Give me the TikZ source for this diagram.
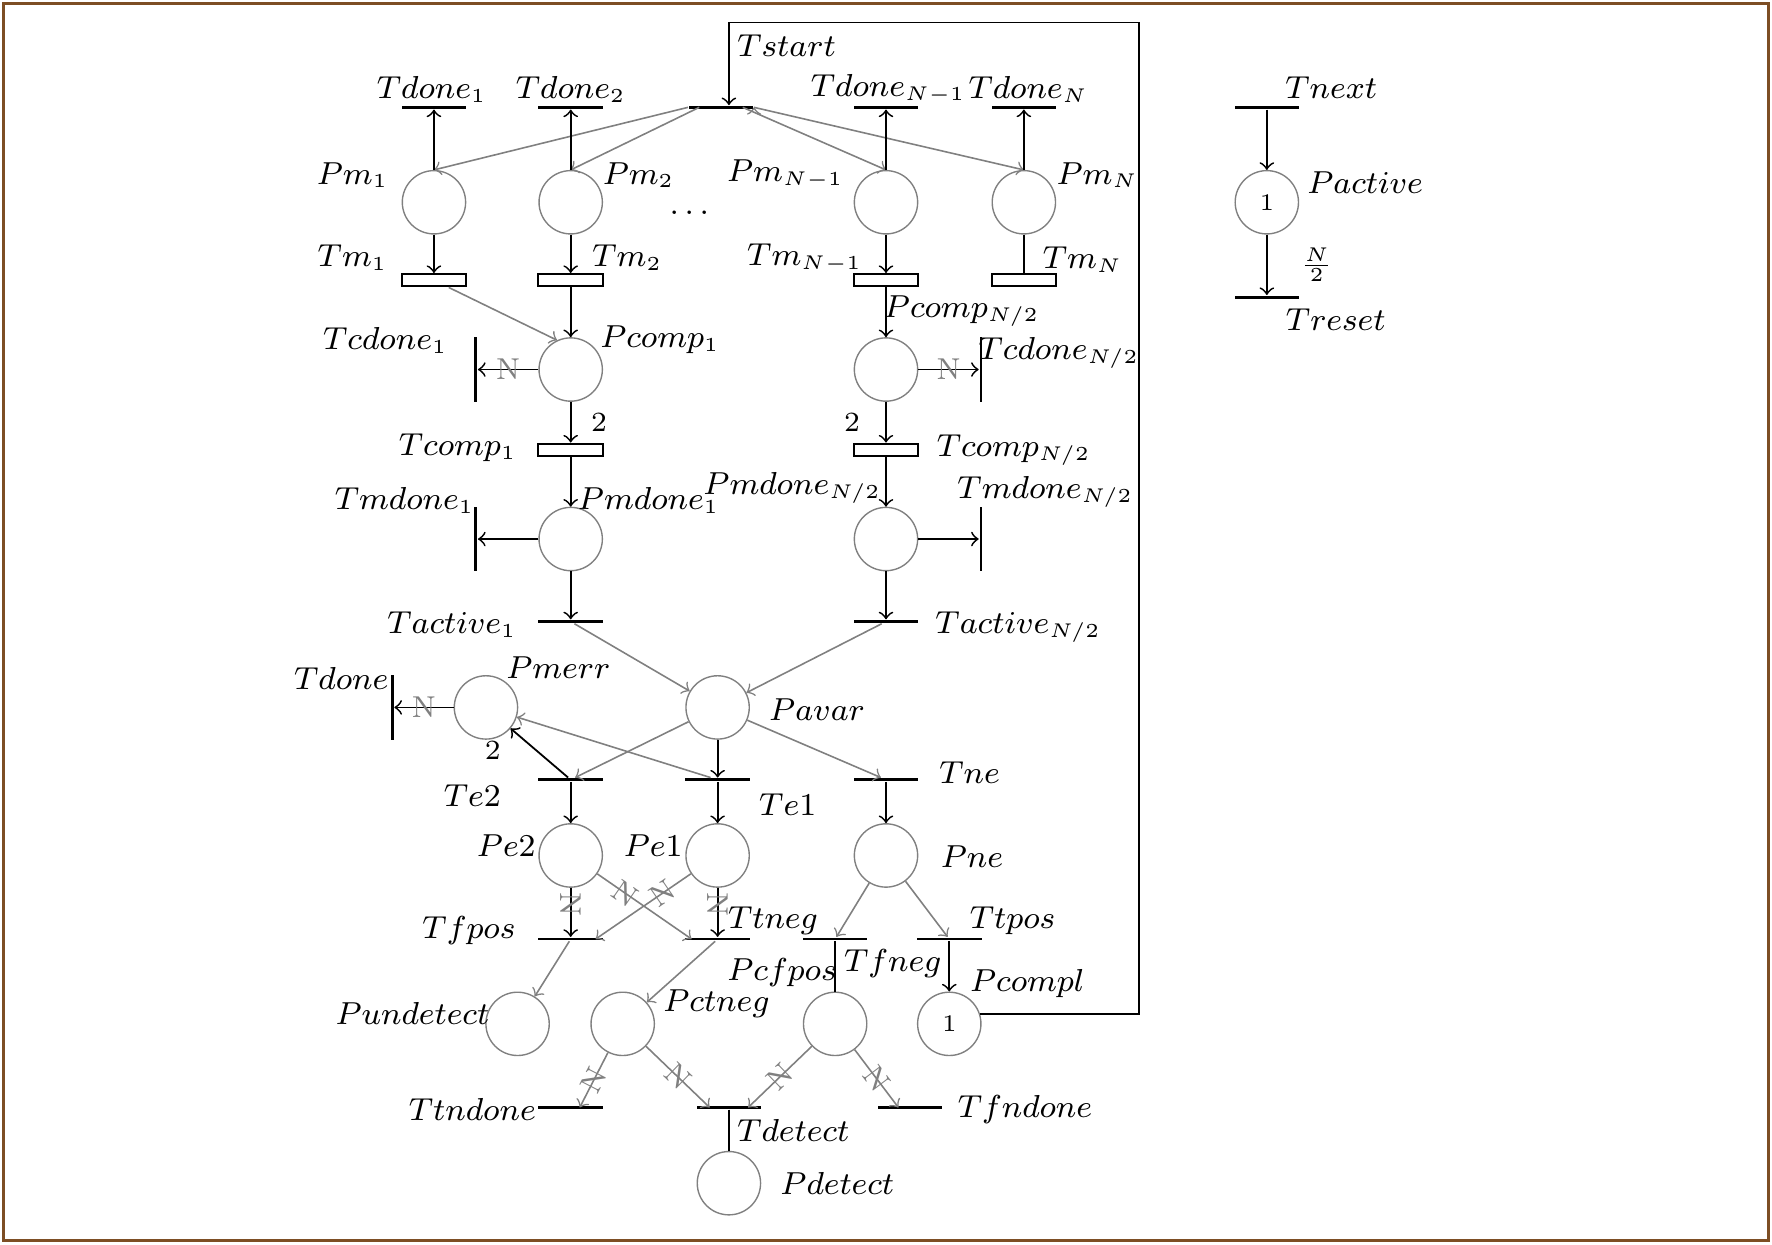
\documentclass[tikz,border=0pt]{standalone}
\usepackage{amsmath}
\usetikzlibrary{arrows,positioning}
\definecolor{framebrown}{RGB}{125,78,36}
\tikzset{
  place/.style={circle, draw=gray, line width=0.35pt, minimum size=0.56cm, inner sep=0pt, font=\fontsize{6}{7}\selectfont},
  hbar/.style={fill=black, minimum width=0.57cm, minimum height=0.7pt, inner sep=0pt},
  vbar/.style={fill=black, minimum width=0.7pt, minimum height=0.57cm, inner sep=0pt},
  tbox/.style={draw, line width=0.5pt, minimum width=0.57cm, minimum height=0.11cm, inner sep=0pt},
  lbl/.style={font=\fontsize{7.6}{9}\selectfont, inner sep=0pt},
  arc/.style={->, line width=0.45pt},
  garc/.style={->, line width=0.4pt, draw=gray},
  wt/.style={font=\fontsize{7}{8}\selectfont, inner sep=0pt},
  nwt/.style={sloped, text=gray, font=\fontsize{7.6}{9}\selectfont, inner sep=0pt},
}

\begin{document}
\begin{tikzpicture}[x=0.01cm, y=-0.01cm]
\useasboundingbox (0,0) rectangle (1568,1101);
\draw[framebrown, line width=0.8pt] (3,3) rectangle (1565,1098);

% modules
\node[hbar] (Tstart) at (638,95) {};
\node[hbar] (Tdone1) at (384,95) {};
\node[hbar] (Tdone2) at (505,95) {};
\node[hbar] (TdoneNm) at (784,95) {};
\node[hbar] (TdoneN) at (906,95) {};
\node[place] (Pm1) at (384,179) {};
\node[place] (Pm2) at (505,179) {};
\node[place] (PmNm) at (784,179) {};
\node[place] (PmN) at (906,179) {};
\node[tbox] (Tm1) at (384,248) {};
\node[tbox] (Tm2) at (505,248) {};
\node[tbox] (TmNm) at (784,248) {};
\node[tbox] (TmN) at (906,248) {};

% comparators
\node[place] (Pcomp1) at (505,327) {};
\node[place] (PcompN) at (784,327) {};
\node[vbar] (Tcdone1) at (421,327) {};
\node[vbar] (TcdoneN) at (868,327) {};
\node[tbox] (Tcomp1) at (505,398) {};
\node[tbox] (TcompN) at (784,398) {};
\node[place] (Pmdone1) at (505,477) {};
\node[place] (PmdoneN) at (784,477) {};
\node[vbar] (Tmdone1) at (421,477) {};
\node[vbar] (TmdoneN) at (868,477) {};
\node[hbar] (Tactive1) at (505,550) {};
\node[hbar] (TactiveN) at (784,550) {};

% voting
\node[place] (Pavar) at (635,626) {};
\node[place] (Pmerr) at (430,626) {};
\node[vbar] (Tdone) at (347,626) {};
\node[hbar] (Te2) at (505,690) {};
\node[hbar] (Te1) at (635,690) {};
\node[hbar] (Tne) at (784,690) {};
\node[place] (Pe2) at (505,757) {};
\node[place] (Pe1) at (635,757) {};
\node[place] (Pne) at (784,757) {};
\node[hbar] (Tfpos) at (505,831) {};
\node[hbar] (Ttneg) at (635,831) {};
\node[hbar] (Tfneg) at (739,831) {};
\node[hbar] (Ttpos) at (840,831) {};
\node[place] (Pundetect) at (458,906) {};
\node[place] (Pctneg) at (551,906) {};
\node[place] (Pcfpos) at (739,906) {};
\node[place] (Pcompl) at (840,906) {1};
\node[hbar] (Ttndone) at (505,980) {};
\node[hbar] (Tdetect) at (645,980) {};
\node[hbar] (Tfndone) at (805,980) {};
\node[place] (Pdetect) at (645,1047) {};

% activation
\node[hbar] (Tnext) at (1121,95) {};
\node[place] (Pactive) at (1121,179) {1};
\node[hbar] (Treset) at (1121,263) {};

\coordinate (cornerR) at (1008,20);

% labels
\node[lbl] (lTstart) at (696,40) {$Tstart$};
\node[lbl] (lTdone1) at (382,79) {$Tdone_1$};
\node[lbl] (lTdone2) at (505,79) {$Tdone_2$};
\node[lbl] (lTdoneNm) at (786,79) {$Tdone_{N-1}$};
\node[lbl] (lTdoneN) at (910,79) {$Tdone_N$};
\node[lbl] (lTnext) at (1178,78) {$Tnext$};
\node[lbl] (lPm1) at (312,155) {$Pm_1$};
\node[lbl] (lPm2) at (565,155) {$Pm_2$};
\node[lbl] (lPmNm) at (695,154) {$Pm_{N-1}$};
\node[lbl] (lPmN) at (971,155) {$Pm_N$};
\node[lbl] (lPactive) at (1208,162) {$Pactive$};
\node[lbl] (ldots) at (610,188) {$\ldots$};
\node[lbl] (lTm1) at (312,228) {$Tm_1$};
\node[lbl] (lTm2) at (555,228) {$Tm_2$};
\node[lbl] (lTmNm) at (712,229) {$Tm_{N-1}$};
\node[lbl] (lTmN) at (958,230) {$Tm_N$};
\node[lbl] (lTreset) at (1182,283) {$Treset$};
\node[lbl] (lPcompN) at (851,275) {$Pcomp_{N/2}$};
\node[lbl] (lTcdone1) at (341,301) {$Tcdone_1$};
\node[lbl] (lPcomp1) at (584,301) {$Pcomp_1$};
\node[lbl] (lTcdoneN) at (937,312) {$Tcdone_{N/2}$};
\node[lbl] (lTcomp1) at (405,396) {$Tcomp_1$};
\node[lbl] (lTcompN) at (897,398) {$Tcomp_{N/2}$};
\node[lbl] (lTmdone1) at (358,443) {$Tmdone_1$};
\node[lbl] (lPmdone1) at (574,443) {$Pmdone_1$};
\node[lbl] (lPmdoneN) at (701,432) {$Pmdone_{N/2}$};
\node[lbl] (lTmdoneN) at (925,435) {$Tmdone_{N/2}$};
\node[lbl] (lTactive1) at (400,553) {$Tactive_1$};
\node[lbl] (lTactiveN) at (901,555) {$Tactive_{N/2}$};
\node[lbl] (lTdone) at (302,600) {$Tdone$};
\node[lbl] (lPmerr) at (494,591) {$Pmerr$};
\node[lbl] (lPavar) at (723,628) {$Pavar$};
\node[lbl] (lTne) at (858,684) {$Tne$};
\node[lbl] (lTe2) at (418,704) {$Te2$};
\node[lbl] (lTe1) at (697,712) {$Te1$};
\node[lbl] (lPe2) at (448,748) {$Pe2$};
\node[lbl] (lPe1) at (578,748) {$Pe1$};
\node[lbl] (lPne) at (860,758) {$Pne$};
\node[lbl] (lTfpos) at (415,823) {$Tfpos$};
\node[lbl] (lTtneg) at (684,815) {$Ttneg$};
\node[lbl] (lTtpos) at (896,815) {$Ttpos$};
\node[lbl] (lPcfpos) at (692,861) {$Pcfpos$};
\node[lbl] (lTfneg) at (790,853) {$Tfneg$};
\node[lbl] (lPcompl) at (909,870) {$Pcompl$};
\node[lbl] (lPundetect) at (365,897) {$Pundetect$};
\node[lbl] (lPctneg) at (634,888) {$Pctneg$};
\node[lbl] (lTtndone) at (418,982) {$Ttndone$};
\node[lbl] (lTfndone) at (907,982) {$Tfndone$};
\node[lbl] (lTdetect) at (702,1000) {$Tdetect$};
\node[lbl] (lPdetect) at (741,1047) {$Pdetect$};

% arcs
\path[garc]
(Tstart.west) edge (Pm1.north)
([xshift=0.1cm]Tstart.west) edge (Pm2.north)
([xshift=-0.1cm]Tstart.east) edge (PmNm.north)
(Tstart.east) edge (PmN.north)
(Tm1) edge (Pcomp1.115);
\path[arc]
(Pm1) edge (Tdone1) edge (Tm1)
(Pm2) edge (Tdone2) edge (Tm2)
(PmNm) edge (TdoneNm) edge (TmNm)
(PmN) edge (TdoneN) edge[-] (TmN)
(Tm2) edge (Pcomp1)
(TmNm) edge (PcompN);
\draw[arc] (Pcompl.18) -| (cornerR) -| ([xshift=0.07cm]Tstart.north);

\path[arc]
(Pcomp1) edge node[nwt] {N} (Tcdone1)
         edge node[wt, xshift=0.25cm] {2} (Tcomp1)
(PcompN) edge node[nwt] {N} (TcdoneN)
         edge node[wt, xshift=-0.3cm] {2} (TcompN)
(Tcomp1) edge (Pmdone1)
(TcompN) edge (PmdoneN)
(Pmdone1) edge (Tmdone1) edge (Tactive1)
(PmdoneN) edge (TmdoneN) edge (TactiveN);
\path[garc]
(Tactive1) edge (Pavar)
(TactiveN) edge (Pavar)
(Pavar) edge (Te2) edge (Tne)
(Te1) edge (Pmerr);
\path[arc]
(Pavar) edge (Te1)
(Te2) edge node[wt, pos=0.8, xshift=-0.26cm, yshift=-0.11cm] {2} (Pmerr)
(Pmerr) edge node[nwt] {N} (Tdone)
(Te2) edge (Pe2)
(Te1) edge (Pe1)
(Tne) edge (Pne)
(Pe2) edge node[nwt, pos=0.35] {N} (Tfpos)
(Pe1) edge node[nwt, pos=0.35] {N} (Ttneg)
(Tfneg) edge[-] (Pcfpos)
(Ttpos) edge (Pcompl)
(Tdetect) edge[-] (Pdetect);
\path[garc]
(Pe2) edge node[nwt, pos=0.3] {N} ([xshift=-0.23cm]Ttneg.center)
(Pe1) edge node[nwt, pos=0.3] {N} ([xshift=0.22cm]Tfpos.center)
(Pne) edge (Tfneg) edge (Ttpos)
(Tfpos) edge (Pundetect)
(Ttneg) edge (Pctneg)
(Pctneg) edge node[nwt] {N} ([xshift=0.08cm]Ttndone.center)
         edge node[nwt] {N} ([xshift=-0.17cm]Tdetect.center)
(Pcfpos) edge node[nwt] {N} ([xshift=0.17cm]Tdetect.center)
         edge node[nwt] {N} ([xshift=-0.1cm]Tfndone.center);

\path[arc]
(Tnext) edge (Pactive)
(Pactive) edge node[wt, xshift=0.44cm] {$\frac{N}{2}$} (Treset);
\end{tikzpicture}
\end{document}
